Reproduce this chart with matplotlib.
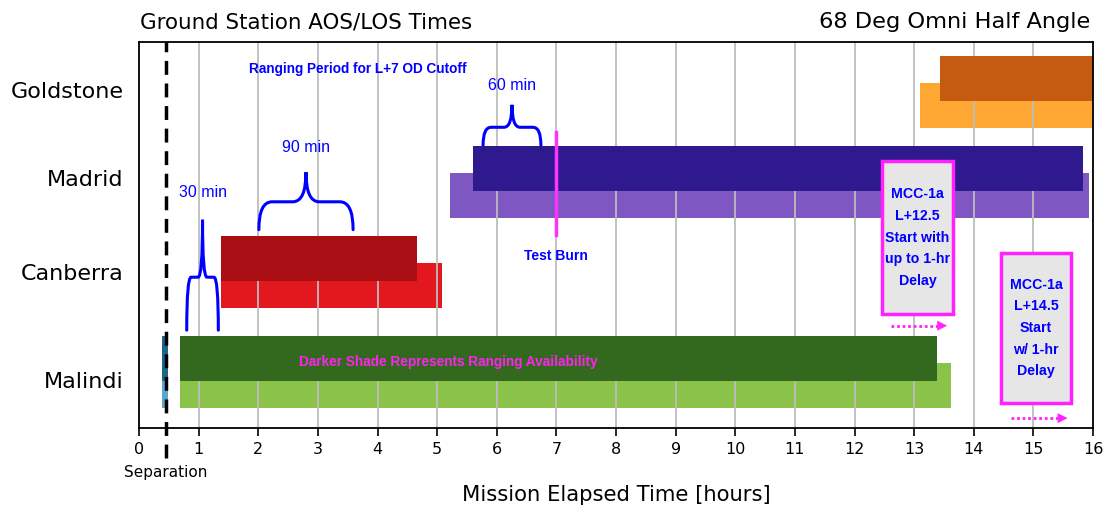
import matplotlib
matplotlib.use("Agg")
import matplotlib.pyplot as plt
from matplotlib.path import Path
from matplotlib.patches import PathPatch, Rectangle

# station passes, hours after launch
stations = ["Malindi", "Canberra", "Madrid", "Goldstone"]
full_start = [0.69, 1.38, 5.22, 13.10]
full_end = [13.62, 5.08, 15.93, 16.00]
rng_start = [0.69, 1.38, 5.60, 13.43]
rng_end = [13.38, 4.66, 15.83, 16.00]
full_colors = ["#8bc34a", "#e3171e", "#7e57c2", "#ffa733"]
rng_colors = ["#33691e", "#a90f15", "#2e1a8e", "#c55a11"]

# short pass right at separation
early_start, early_end = 0.38, 0.48

separation = 0.45
test_burn = 7.0
brace_spans = [(0.80, 1.33), (2.01, 3.59), (5.77, 6.74)]
brace_labels = ["30 min", "90 min", "60 min"]
mcc_labels = ["MCC-1a\nL+12.5\nStart with\nup to 1-hr\nDelay",
              "MCC-1a\nL+14.5\nStart\nw/ 1-hr\nDelay"]
xticks = list(range(0, 17))

plt.rcParams["font.family"] = ["DejaVu Sans"]
ann_font = ["Liberation Sans", "DejaVu Sans"]

row_base = [0.22, 1.34, 2.34, 3.34]
bar_h = 0.50
rng_off = 0.30
ytick_pos = [0.53, 1.74, 2.78, 3.77]

fig = plt.figure(figsize=(11.06, 5.12), dpi=100)
ax = fig.add_axes([0.1257, 0.164, 0.8626, 0.754])
ax.set_xlim(0, 16)
ax.set_ylim(0, 4.3)

for i, st in enumerate(stations):
    ax.barh(row_base[i], full_end[i] - full_start[i], left=full_start[i], height=bar_h,
            align="edge", color=full_colors[i], zorder=2, lw=0)
    ax.barh(row_base[i] + rng_off, rng_end[i] - rng_start[i], left=rng_start[i], height=bar_h,
            align="edge", color=rng_colors[i], zorder=3, lw=0)

ax.barh(row_base[0], early_end - early_start, left=early_start, height=bar_h,
        align="edge", color="#5aa9cc", zorder=2, lw=0)
ax.barh(row_base[0] + rng_off, early_end - early_start, left=early_start, height=bar_h,
        align="edge", color="#1d6688", zorder=3, lw=0)

ax.set_xticks(xticks)
ax.set_xticklabels([str(t) for t in xticks], fontsize=11.5)
ax.set_yticks(ytick_pos)
ax.set_yticklabels(stations, fontsize=16)
ax.tick_params(axis="y", length=0, pad=11)
ax.tick_params(axis="x", length=6, width=1.2, pad=4)
ax.grid(axis="x", color="#bdbdbd", lw=1.3, zorder=4)
ax.set_axisbelow(False)
for s in ax.spines.values():
    s.set_linewidth(1.3)
    s.set_zorder(6)

# separation marker
ax.plot([separation, separation], [-0.33, 4.3], color="black", ls=(0, (4, 2.5)),
        lw=2.5, clip_on=False, zorder=7)
ax.text(separation, -0.41, "Separation", ha="center", va="top", fontsize=11)


def brace(x0, x1, y_feet, y_mid, y_tip):
    xc = (x0 + x1) / 2
    q = (x1 - x0) * 0.14
    verts = [(x0, y_feet), (x0, y_mid), (x0 + q, y_mid),
             (xc - q, y_mid),
             (xc, y_mid), (xc, y_tip),
             (xc, y_mid), (xc + q, y_mid),
             (x1 - q, y_mid),
             (x1, y_mid), (x1, y_feet)]
    codes = [Path.MOVETO, Path.CURVE3, Path.CURVE3,
             Path.LINETO,
             Path.CURVE3, Path.CURVE3,
             Path.CURVE3, Path.CURVE3,
             Path.LINETO,
             Path.CURVE3, Path.CURVE3]
    ax.add_patch(PathPatch(Path(verts, codes), fc="none", ec="#0000ff", lw=2.2,
                           zorder=8, capstyle="round"))


brace_y = [(1.09, 1.68, 2.32), (2.21, 2.52, 2.85), (3.15, 3.35, 3.60)]
label_y = [2.62, 3.12, 3.81]
for (x0, x1), (yf, ym, yt), lab, ly in zip(brace_spans, brace_y, brace_labels, label_y):
    brace(x0, x1, yf, ym, yt)
    ax.text((x0 + x1) / 2, ly, lab, ha="center", va="center", color="#0000ff",
            fontsize=11.5, family=ann_font, zorder=9)

ax.text(3.67, 4.0, "Ranging Period for L+7 OD Cutoff", ha="center", va="center",
        color="#0000ff", fontsize=9.8, fontweight="bold", family=ann_font, zorder=9)

# test burn
ax.plot([test_burn, test_burn], [2.15, 3.30], color="#ff33ff", lw=2.5, zorder=8)
ax.text(test_burn, 1.92, "Test Burn", ha="center", va="center", color="#0000ff",
        fontsize=10, fontweight="bold", family=ann_font, zorder=9)

ax.text(5.18, 0.735, "Darker Shade Represents Ranging Availability", ha="center",
        va="center", color="#ff22ee", fontsize=9.8, fontweight="bold", family=ann_font,
        zorder=9)

# MCC boxes
boxes = [(12.46, 1.27, 1.19, 1.70), (14.46, 0.28, 1.17, 1.67)]
arrows = [(12.61, 13.60, 1.14), (14.62, 15.62, 0.11)]
for (bx, by, bw, bh), lab, (a0, a1, ay) in zip(boxes, mcc_labels, arrows):
    ax.add_patch(Rectangle((bx, by), bw, bh, fc="#e6e6e6", ec="#ff22ff", lw=2.5, zorder=9))
    ax.text(bx + bw / 2, by + bh / 2, lab, ha="center", va="center", color="#0000ff",
            fontsize=10.2, fontweight="bold", family=ann_font, linespacing=1.7, zorder=10)
    ax.plot([a0, a1 - 0.15], [ay, ay], color="#ff22ff", ls=(0, (1, 1)), lw=2, zorder=9)
    ax.annotate("", xy=(a1, ay), xytext=(a1 - 0.2, ay),
                arrowprops=dict(arrowstyle="-|>", color="#ff22ff", lw=0,
                                mutation_scale=18), zorder=9)

ax.set_xlabel("Mission Elapsed Time [hours]", fontsize=15.2)
ax.xaxis.set_label_coords(0.5, -0.174)
ax.xaxis.label.set_va("center")
fig.text(0.1266, 0.957, "Ground Station AOS/LOS Times", ha="left", va="center", fontsize=15.4)
fig.text(0.986, 0.957, "68 Deg Omni Half Angle", ha="right", va="center", fontsize=16.2)

fig.savefig("out.png", dpi=100)
